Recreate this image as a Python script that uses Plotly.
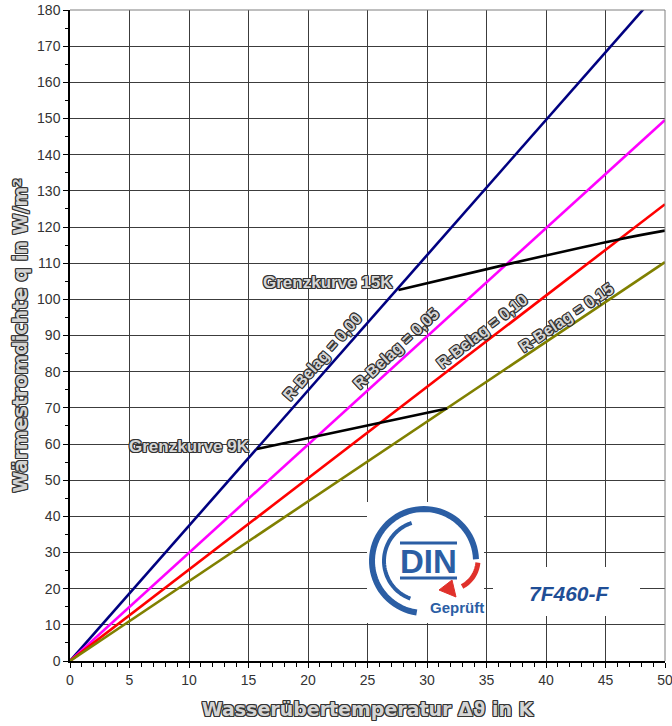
import numpy as np
import plotly.graph_objects as go

# ---- data ----
dtheta_lines = [0, 50]
q_R000 = [0, 187.0]
q_R005 = [0, 149.6]
q_R010 = [0, 126.3]
q_R015 = [0, 110.3]

grenz15_x = [27.6, 36.9, 46.3, 50.0]
grenz15_y = [102.6, 109.8, 116.7, 119.0]
grenz9_x = [15.7, 31.7]
grenz9_y = [58.6, 69.8]

x_ticks = [0, 5, 10, 15, 20, 25, 30, 35, 40, 45, 50]
y_ticks = list(range(0, 181, 10))

# ---- layout geometry (pixels) ----
W, H = 672, 726
L, R, T, B = 70, 665, 10, 661


def pp(px, py):
    return (px - L) / (R - L), (B - py) / (B - T)


def arc_path(cx, cy, r, a0, a1, n=60):
    a = np.radians(np.linspace(a0, a1, n))
    pts = [pp(cx + r * np.cos(t), cy - r * np.sin(t)) for t in a]
    return "M " + " L ".join(f"{x:.5f},{y:.5f}" for x, y in pts)


def poly_path(points, close=False):
    pts = [pp(x, y) for x, y in points]
    s = "M " + " L ".join(f"{x:.5f},{y:.5f}" for x, y in pts)
    return s + (" Z" if close else "")


fig = go.Figure()
series = [
    (q_R000, "#000080"),
    (q_R005, "#ff00ff"),
    (q_R010, "#ff0000"),
    (q_R015, "#808000"),
]
for ys, col in series:
    fig.add_trace(go.Scatter(x=dtheta_lines, y=ys, mode="lines",
                             line=dict(color=col, width=2.6), showlegend=False,
                             hoverinfo="skip"))
fig.add_trace(go.Scatter(x=grenz15_x, y=grenz15_y, mode="lines",
                         line=dict(color="black", width=2.6, shape="spline"),
                         showlegend=False, hoverinfo="skip"))
fig.add_trace(go.Scatter(x=grenz9_x, y=grenz9_y, mode="lines",
                         line=dict(color="black", width=2.6),
                         showlegend=False, hoverinfo="skip"))

oc = "#333333"
outline = (f"-1px -1px 0 {oc}, 1px -1px 0 {oc}, -1px 1px 0 {oc}, 1px 1px 0 {oc}, "
           f"0 -1px 0 {oc}, 0 1px 0 {oc}, -1px 0 0 {oc}, 1px 0 0 {oc}")
lab_font = dict(family="Liberation Sans, Arial", size=16, color="#d6d6d6",
                weight="bold", shadow=outline)

annotations = [
    dict(x=27.3, y=104.6, text="Grenzkurve 15K", xanchor="right", yanchor="middle",
         showarrow=False, font=dict(lab_font, size=17)),
    dict(x=15.3, y=59.4, text="Grenzkurve 9K", xanchor="right", yanchor="middle",
         showarrow=False, font=dict(lab_font, size=17)),
    dict(x=21.2, y=84.3, text="R-Belag = 0,00", textangle=-48.7, showarrow=False,
         xanchor="center", yanchor="middle", font=lab_font),
    dict(x=27.4, y=86.5, text="R-Belag = 0,05", textangle=-43, showarrow=False,
         xanchor="center", yanchor="middle", font=lab_font),
    dict(x=34.6, y=91.2, text="R-Belag = 0,10", textangle=-38, showarrow=False,
         xanchor="center", yanchor="middle", font=lab_font),
    dict(x=41.7, y=95.1, text="R-Belag = 0,15", textangle=-34, showarrow=False,
         xanchor="center", yanchor="middle", font=lab_font),
]

blue = "#2b5ea4"
shapes = [
    dict(type="line", xref="paper", yref="paper", x0=0, x1=1, y0=1, y1=1,
         line=dict(color="#7f7f7f", width=1)),
    dict(type="line", xref="paper", yref="paper", x0=1, x1=1, y0=0, y1=1,
         line=dict(color="#7f7f7f", width=1)),
]
# logo background
x0p, y0p = pp(367, 623)
x1p, y1p = pp(484, 502)
shapes.append(dict(type="rect", xref="paper", yref="paper", x0=x0p, x1=x1p, y0=y0p, y1=y1p,
                   fillcolor="white", line=dict(width=0), layer="above"))
# label background
x0p, y0p = pp(493, 616)
x1p, y1p = pp(640, 567)
shapes.append(dict(type="rect", xref="paper", yref="paper", x0=x0p, x1=x1p, y0=y0p, y1=y1p,
                   fillcolor="white", line=dict(width=0), layer="above"))
# DIN arcs
shapes.append(dict(type="path", xref="paper", yref="paper", path=arc_path(424, 561, 52, 2, 262),
                   line=dict(color=blue, width=6), layer="above"))
shapes.append(dict(type="path", xref="paper", yref="paper", path=arc_path(424, 561, 40, 108, 250),
                   line=dict(color=blue, width=4), layer="above"))
for yb in (543, 578):
    shapes.append(dict(type="path", xref="paper", yref="paper",
                       path=poly_path([(400, yb), (457, yb)]),
                       line=dict(color=blue, width=3), layer="above"))
# red arrow
shapes.append(dict(type="path", xref="paper", yref="paper",
                   path=arc_path(448, 560, 30, -5, -62, 20),
                   line=dict(color="#e0312b", width=5), layer="above"))
shapes.append(dict(type="path", xref="paper", yref="paper",
                   path=poly_path([(452, 580), (456, 597), (439, 590)], close=True),
                   fillcolor="#e0312b", line=dict(color="#e0312b", width=1), layer="above"))


def paper_text(px, py, text, font):
    xa, ya = pp(px, py)
    return dict(x=xa, y=ya, xref="paper", yref="paper", text=text, showarrow=False,
                xanchor="center", yanchor="middle", font=font)


annotations.append(paper_text(428, 561, "DIN",
                              dict(family="Liberation Sans, Arial", size=33, color=blue,
                                   weight="bold")))
annotations.append(paper_text(457, 607, "Geprüft",
                              dict(family="Liberation Sans, Arial", size=15, color=blue,
                                   weight="bold")))
annotations.append(paper_text(569, 593, "7F460-F",
                              dict(family="Liberation Sans, Arial", size=21, color="#1f4e96",
                                   weight="bold", style="italic")))

title_font = dict(family="DejaVu Sans", size=19, color="#d4d4d4", weight="bold",
                  shadow=outline)
tick_font = dict(family="Liberation Sans, Arial", size=14, color="#333333")

fig.update_layout(
    width=W, height=H,
    margin=dict(l=L, r=W - R, t=T, b=H - B, pad=0),
    plot_bgcolor="white", paper_bgcolor="white",
    annotations=annotations, shapes=shapes,
    xaxis=dict(range=[0, 50], tickvals=x_ticks, ticktext=[str(v) for v in x_ticks],
               showgrid=True, gridcolor="#3c3c3c", gridwidth=1, automargin=False,
               ticklabeloverflow="allow",
               showline=True, linecolor="black", linewidth=1.5,
               ticks="outside", ticklen=5, tickcolor="black",
               minor=dict(dtick=1, ticks="outside", ticklen=4, tickcolor="black",
                          showgrid=False),
               tickfont=tick_font, zeroline=False,
               title=dict(text="Wasserübertemperatur Δϑ in K", font=title_font,
                          standoff=16)),
    yaxis=dict(range=[0, 180], tickvals=y_ticks, ticktext=[str(v) for v in y_ticks],
               showgrid=True, gridcolor="#3c3c3c", gridwidth=1, automargin=False,
               ticklabeloverflow="allow",
               showline=True, linecolor="black", linewidth=1.5,
               ticks="outside", ticklen=5, tickcolor="black",
               minor=dict(dtick=5, ticks="outside", ticklen=3, tickcolor="black",
                          showgrid=False),
               tickfont=tick_font, zeroline=False,
               title=dict(text="Wärmestromdichte q in W/m²", font=title_font,
                          standoff=4)),
)

fig.write_html("out.html")
